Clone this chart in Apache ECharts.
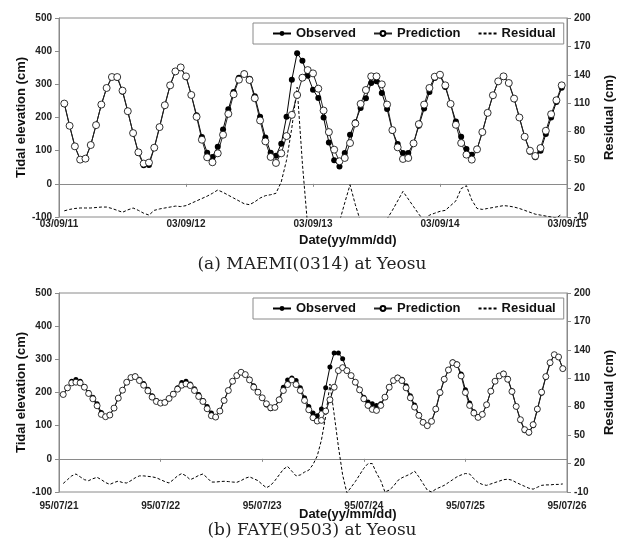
<!DOCTYPE html>
<html>
<head>
<meta charset="utf-8">
<title>Tidal elevation - Yeosu</title>
<script src="https://cdn.jsdelivr.net/npm/echarts@6/dist/echarts.min.js"></script>
<style>
  html, body { margin: 0; padding: 0; background: #fff; }
  #chart { width: 624px; height: 547px; }
</style>
</head>
<body>
<div id="chart"></div>
<script>
// (a) MAEMI(0314) - hourly values, hour 1..95 after 03/09/11 00:00
const daysA = ['03/09/11', '03/09/12', '03/09/13', '03/09/14', '03/09/15']
const observedA = [
  242, 175, 113, 73, 76, 117, 177, 239, 289, 322,
  320, 278, 218, 153, 93, 56, 57, 108, 171, 237,
  297, 339, 350, 323, 268, 207, 141, 94, 81, 112,
  164, 225, 277, 320, 333, 317, 264, 202, 140, 94,
  85, 121, 202, 314, 394, 371, 326, 284, 259, 200,
  125, 71, 52, 93, 148, 186, 229, 258, 304, 309,
  274, 226, 160, 120, 93, 93, 122, 175, 227, 277,
  319, 327, 292, 241, 188, 142, 105, 88, 104, 156,
  214, 267, 309, 323, 304, 257, 200, 142, 97, 80,
  100, 150, 200, 247, 290,
]
const predictionA = [
  242, 175, 113, 73, 76, 117, 177, 239, 289, 322,
  322, 281, 219, 153, 95, 61, 64, 109, 171, 237,
  297, 339, 351, 324, 268, 202, 133, 80, 65, 92,
  148, 211, 270, 314, 331, 313, 258, 191, 128, 81,
  63, 92, 144, 208, 268, 320, 343, 333, 287, 221,
  156, 103, 68, 78, 123, 182, 241, 283, 324, 324,
  300, 239, 162, 110, 75, 78, 122, 180, 239, 289,
  323, 329, 297, 241, 178, 123, 88, 73, 104, 156,
  214, 267, 309, 324, 304, 257, 200, 142, 100, 84,
  108, 160, 210, 252, 297,
]
const residualA = [
  -3.5, -2, -1, -0.5, -0.5, -0.5, 0, 0.5, 0.5, -1,
  -3, -5, -2.5, -0.5, -3, -6, -8, -3, -1.5, -0.5,
  0.5, 1.5, 1, 2, 4.5, 7, 9.5, 12, 15, 18.5,
  16, 13, 10, 7, 4, 3, 6, 10, 12.5, 13.5,
  15, 27, 50, 84, 127, 46, -20, -40, -40, -40,
  -40, -30, -15, 5, 24, 3, -15, -30, -30, -30,
  -25, -12, -3, 7, 17, 9, 1, -7, -14, -8,
  -6, -4, -3, 2, 7, 20, 23, 8, -1, -2,
  -1, 0, 1, 2, 1.5, 0.5, -1, -3, -5, -7,
  -8, -9, -10, -11, -7,
]

// (b) FAYE(9503) - hourly values, hour 1..119 after 95/07/21 00:00
const daysB = ['95/07/21', '95/07/22', '95/07/23', '95/07/24', '95/07/25', '95/07/26']
const observedB = [
  194, 214, 234, 239, 234, 218, 200, 186, 166, 140,
  128, 132, 153, 183, 207, 231, 245, 250, 240, 227,
  210, 190, 176, 168, 170, 182, 197, 214, 230, 234,
  226, 211, 194, 176, 158, 138, 126, 144, 176, 206,
  234, 251, 261, 254, 240, 220, 203, 184, 162, 151,
  155, 180, 216, 238, 244, 236, 214, 184, 158, 138,
  130, 150, 214, 277, 319, 319, 302, 268, 251, 231,
  210, 186, 171, 166, 161, 166, 186, 216, 236, 246,
  240, 220, 190, 162, 134, 110, 100, 113, 148, 198,
  238, 268, 292, 286, 256, 208, 168, 142, 126, 134,
  163, 204, 234, 251, 258, 242, 205, 158, 116, 85,
  78, 100, 148, 198, 246, 288, 313, 306, 272,
]
const predictionB = [
  194, 214, 229, 231, 229, 216, 197, 181, 160, 134,
  127, 132, 153, 183, 207, 231, 245, 248, 236, 222,
  205, 186, 173, 168, 170, 182, 195, 210, 222, 226,
  221, 206, 188, 173, 151, 130, 126, 144, 176, 206,
  234, 251, 261, 254, 238, 216, 201, 184, 166, 154,
  155, 178, 206, 224, 238, 224, 206, 176, 148, 124,
  114, 116, 144, 178, 216, 266, 275, 266, 251, 231,
  208, 181, 161, 149, 146, 161, 186, 216, 236, 244,
  236, 214, 184, 156, 131, 110, 100, 113, 150, 200,
  240, 268, 290, 284, 250, 200, 161, 138, 125, 134,
  163, 204, 234, 250, 256, 240, 203, 158, 118, 88,
  80, 103, 150, 201, 248, 290, 314, 307, 272,
]
const residualB = [
  -1, 3, 7, 9, 6, 3, 2, 4, 5.5, 3,
  0, -2, 0, 1.5, 0, -0.5, 2, 5, 7, 7,
  6.5, 6, 5, 3, 1, -0.5, 3, 7, 9.5, 7,
  3, 5, 7.5, 9, 5, 0.5, 0.5, 1, 1.3, 1,
  0.5, 0.2, 2, 4.5, 6, 4, 2, -2, -5.5, -3,
  2, 8, 14, 17, 12, 7, 8, 11, 13, 19,
  28, 45, 70, 104, 72, 38, 8, -11, -5, 1,
  8, 15, 20, 20, 10, 2, -10, -8, -4, 2,
  5, 7, 9, 12, 6, -1, -8, -10, -7, -5,
  -3, 0, 3, 6, 8, 9.5, 9, 4, 0, -2,
  -3, -1.5, 0, 1.5, 3, 3.5, 2.5, 0, -2, -4,
  -6, -7, -5, -3, -2.5, -2.5, -2, -2, -1.5,
]

const SANS = '"Liberation Sans", Arial, sans-serif'
const FRAME = '#8a8a8a'

/** 把小时序列转换成 [hour, value] */
function toPairs(values) {
  return values.map((v, i) => [i + 1, v])
}

function makeXAxis(gridIndex, days, margin) {
  return {
    gridIndex: gridIndex,
    type: 'value',
    min: 0,
    max: (days.length - 1) * 24,
    interval: 24,
    splitLine: { show: false },
    axisLine: { lineStyle: { color: FRAME } },
    axisTick: { length: 3, lineStyle: { color: FRAME } },
    axisLabel: {
      formatter: (v) => days[v / 24],
      fontFamily: SANS,
      fontWeight: 'bold',
      fontSize: 10,
      color: '#222',
      margin: margin,
      showMinLabel: true,
      showMaxLabel: true,
    },
  }
}

function makeYAxes(gridIndex) {
  const common = {
    gridIndex: gridIndex,
    type: 'value',
    nameLocation: 'middle',
    nameRotate: 90,
    nameMoveOverlap: false,
    nameTextStyle: { fontFamily: SANS, fontWeight: 'bold', fontSize: 13, color: '#111' },
    splitLine: { show: false },
    axisLine: { show: true, lineStyle: { color: FRAME } },
    axisTick: { show: true, length: 4, lineStyle: { color: FRAME } },
    axisLabel: { fontFamily: SANS, fontWeight: 'bold', fontSize: 10, color: '#222', margin: 7 },
  }
  return [
    Object.assign({}, common, {
      position: 'left',
      min: -100,
      max: 500,
      interval: 100,
      name: 'Tidal elevation (cm)',
      nameGap: 31,
    }),
    Object.assign({}, common, {
      position: 'right',
      min: -10,
      max: 200,
      interval: 30,
      name: 'Residual (cm)',
      nameGap: 36,
    }),
  ]
}

function makeSeries(axisOffset, observed, prediction, residual, dotSize) {
  return [
    {
      name: 'Observed',
      type: 'line',
      xAxisIndex: axisOffset / 2,
      yAxisIndex: axisOffset,
      data: toPairs(observed),
      symbol: 'circle',
      symbolSize: dotSize - 1,
      itemStyle: { color: '#000' },
      lineStyle: { color: '#000', width: 1 },
      animation: false,
    },
    {
      name: 'Prediction',
      type: 'line',
      xAxisIndex: axisOffset / 2,
      yAxisIndex: axisOffset,
      data: toPairs(prediction),
      symbol: 'circle',
      symbolSize: dotSize,
      itemStyle: { color: '#fff', borderColor: '#000', borderWidth: 0.8 },
      lineStyle: { color: '#222', width: 1 },
      animation: false,
    },
    {
      name: 'Residual',
      type: 'line',
      xAxisIndex: axisOffset / 2,
      yAxisIndex: axisOffset + 1,
      data: toPairs(residual),
      symbol: 'none',
      clip: true,
      itemStyle: { color: 'rgba(0,0,0,0)' },
      lineStyle: { color: '#000', width: 1, type: [3, 2] },
      animation: false,
    },
  ]
}

function makeLegend(top) {
  return {
    left: 253,
    top: top,
    orient: 'horizontal',
    data: ['Observed', 'Prediction', 'Residual'],
    backgroundColor: '#fff',
    borderColor: FRAME,
    borderWidth: 1,
    borderRadius: 0,
    padding: [4, 8, 4, 19],
    itemGap: 17,
    itemWidth: 18,
    itemHeight: 6,
    selectedMode: false,
    textStyle: { fontFamily: SANS, fontWeight: 'bold', fontSize: 13, color: '#111' },
  }
}

function caption(text, top) {
  return {
    type: 'text',
    left: 'center',
    top: top,
    style: { text: text, font: '17px "DejaVu Serif", serif', fill: '#222' },
  }
}

function dateTitle(top) {
  return {
    type: 'text',
    left: 299,
    top: top,
    style: { text: 'Date(yy/mm/dd)', font: 'bold 13px ' + SANS, fill: '#111' },
  }
}

const chart = echarts.init(document.getElementById('chart'), null, { renderer: 'canvas' })

const yA = makeYAxes(0)
const yB = makeYAxes(1)

chart.setOption({
  backgroundColor: '#fff',
  animation: false,
  grid: [
    { left: 59, right: 56, top: 18, height: 199, show: true, borderColor: FRAME, borderWidth: 1 },
    { left: 59, right: 56, top: 293, height: 199, show: true, borderColor: FRAME, borderWidth: 1 },
  ],
  legend: [makeLegend(23), makeLegend(298)],
  xAxis: [makeXAxis(0, daysA, 2), makeXAxis(1, daysB, 9)],
  yAxis: [yA[0], yA[1], yB[0], yB[1]],
  series: [
    ...makeSeries(0, observedA, predictionA, residualA, 7),
    ...makeSeries(2, observedB, predictionB, residualB, 6),
  ],
  graphic: [
    dateTitle(234),
    dateTitle(508),
    caption('(a) MAEMI(0314) at Yeosu', 256),
    caption('(b) FAYE(9503) at Yeosu', 522),
  ],
})

window.addEventListener('resize', () => chart.resize())
</script>
</body>
</html>
